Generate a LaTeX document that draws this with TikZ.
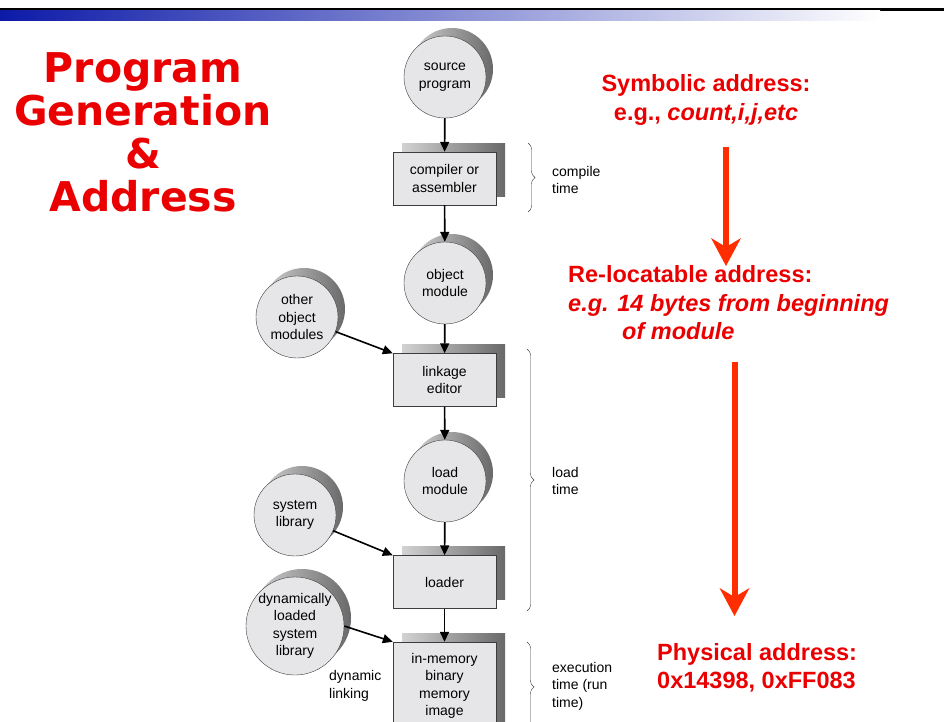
\documentclass[tikz,border=0pt]{standalone}
\usepackage{fontspec}
\setmainfont{Liberation Sans}
\newfontfamily\headfont{DejaVu Sans}
\usepackage{tikz}
\usetikzlibrary{calc}
\usetikzlibrary{arrows.meta}
\usetikzlibrary{shadows}
\usetikzlibrary{decorations.pathreplacing}
\usepackage{xcolor}
\definecolor{titlered}{RGB}{234,0,0}
\definecolor{arrowred}{RGB}{255,45,0}
\definecolor{barblue}{RGB}{12,26,168}
\definecolor{diskgray}{RGB}{230,230,232}
\definecolor{edgegray}{RGB}{60,60,60}
\definecolor{shadelight}{RGB}{210,210,210}
\definecolor{shadedark}{RGB}{105,105,105}
\newcommand\diagfont{\fontsize{14}{17.5}\selectfont}
\newcommand\notefont{\fontsize{23.5}{28.5}\selectfont\bfseries}
\tikzset{
  disk/.style={circle, draw=edgegray, thin, fill=diskgray, minimum size=82pt,
    inner sep=0pt, align=center, font=\diagfont,
    general shadow={shadow xshift=7pt, shadow yshift=8pt, left color=shadelight, right color=shadedark}},
  stagebox/.style={rectangle, draw=edgegray, thin, fill=diskgray, minimum width=103pt,
    minimum height=53pt, inner sep=0pt, align=center, font=\diagfont,
    general shadow={shadow xshift=9pt, shadow yshift=9pt, left color=shadelight, right color=shadedark}},
  flow/.style={line width=1.6pt, -{Triangle[length=10pt,width=9pt]}},
  bigflow/.style={arrowred, line width=6pt, -{Stealth[length=28pt,width=30pt,inset=9pt,line width=0pt]}},
  timebrace/.style={decorate, decoration={brace, amplitude=7pt}, draw=edgegray, thin},
  sidenote/.style={align=left, anchor=west, inner sep=1pt, font=\diagfont},
  rednote/.style={text=titlered, font=\notefont},
}

\begin{document}
\begin{tikzpicture}[x=1pt, y=-1pt]

%%%%%%%%%%%%%%%%%%%%%%%%%%%%%%%%%%%%%%%%%%%%%%%%%%%%%%%%%%%%%% Setup
\coordinate (C) at (0, 0);
% page frame of the slide
\useasboundingbox (C) rectangle ($(C)+(944,721)$);
\fill[black] ($(C)+(0,8)$) rectangle ($(C)+(944,10.5)$);
\shade[left color=barblue, right color=white] ($(C)+(0,10.5)$) rectangle ($(C)+(880,20.5)$);

\node[text=titlered, font=\headfont\bfseries\fontsize{41}{43}\selectfont, align=center] (title) at ($(C)+(143,132)$) {Program\\Generation\\\&\\Address};


%%%%%%%%%%%%%%%%%%%%%%%%%%%%%%%%%%%%%%%%%%%%%%%%%%%%%%%%%%%%%% Chain

\node[disk] (src) at ($(C)+(445,77)$) {source\\program};
\node[stagebox] (comp) at ($(C)+(444.5,178.5)$) {compiler or\\assembler};
\node[disk] (objm) at ($(C)+(445,283)$) {object\\module};
\node[disk] (others) at ($(C)+(297,317)$) {other\\object\\modules};
\node[stagebox] (link) at ($(C)+(444.5,380)$) {linkage\\editor};
\node[disk] (loadm) at ($(C)+(445,481)$) {load\\module};
\node[disk] (syslib) at ($(C)+(295,515)$) {system\\library};
\node[stagebox] (loader) at ($(C)+(444.5,582)$) {loader};
\node[disk, minimum size=97pt] (dynlib) at ($(C)+(295,626)$) {dynamically\\loaded\\system\\library};
\node[stagebox, minimum height=88pt] (image) at ($(C)+(444.5,686)$) {in-memory\\binary\\memory\\image};
\node[sidenote] (dynlink) at ($(C)+(328,686)$) {dynamic\\linking};

\draw[flow] (src) -- (comp);
\draw[flow] (comp) -- (objm);
\draw[flow] (objm) -- (link);
\draw[flow] (link) -- (loadm);
\draw[flow] (loadm) -- (loader);
\draw[flow] (loader) -- (image);
\draw[flow] (others) -- (link.north west);
\draw[flow] (syslib) -- (loader.north west);
\draw[flow] (dynlib.east) -- (image.north west);


%%%%%%%%%%%%%%%%%%%%%%%%%%%%%%%%%%%%%%%%%%%%%%%%%%%%%%%%%%%%%% Braces

\coordinate (cb1) at ($(C)+(528,143)$);
\coordinate (cb2) at ($(C)+(528,212)$);
\draw[timebrace] (cb1) -- (cb2);
\node[sidenote] (ctime) at ($(C)+(551,180)$) {compile\\time};

\coordinate (lb1) at ($(C)+(527,349)$);
\coordinate (lb2) at ($(C)+(527,611)$);
\draw[timebrace] (lb1) -- (lb2);
\node[sidenote] (ltime) at ($(C)+(551,481)$) {load\\time};

\coordinate (eb1) at ($(C)+(527,642)$);
\coordinate (eb2) at ($(C)+(527,732)$);
\draw[timebrace] (eb1) -- (eb2);
\node[sidenote] (etime) at ($(C)+(551,686)$) {execution\\time (run\\time)};


%%%%%%%%%%%%%%%%%%%%%%%%%%%%%%%%%%%%%%%%%%%%%%%%%%%%%%%%%%%%%% Addresses

\node[rednote, align=center] (symb) at ($(C)+(706,100)$) {Symbolic address:\\e.g., \textit{count,i,j,etc}};
\node[rednote, align=left, anchor=west, inner sep=0pt] (reloc) at ($(C)+(568,303)$) {Re-locatable address:\\\textit{e.g. 14 bytes from beginning}\\\hspace*{54pt}\textit{of module}};
\node[rednote, align=left, anchor=west, inner sep=0pt] (phys) at ($(C)+(657,668)$) {Physical address:\\0x14398, 0xFF083};

\coordinate (r1top) at ($(C)+(726,147)$);
\coordinate (r1tip) at ($(C)+(726,266)$);
\draw[bigflow] (r1top) -- (r1tip);

\coordinate (r2top) at ($(C)+(734.5,362)$);
\coordinate (r2tip) at ($(C)+(734.5,616)$);
\draw[bigflow] (r2top) -- (r2tip);

\end{tikzpicture}
\end{document}
